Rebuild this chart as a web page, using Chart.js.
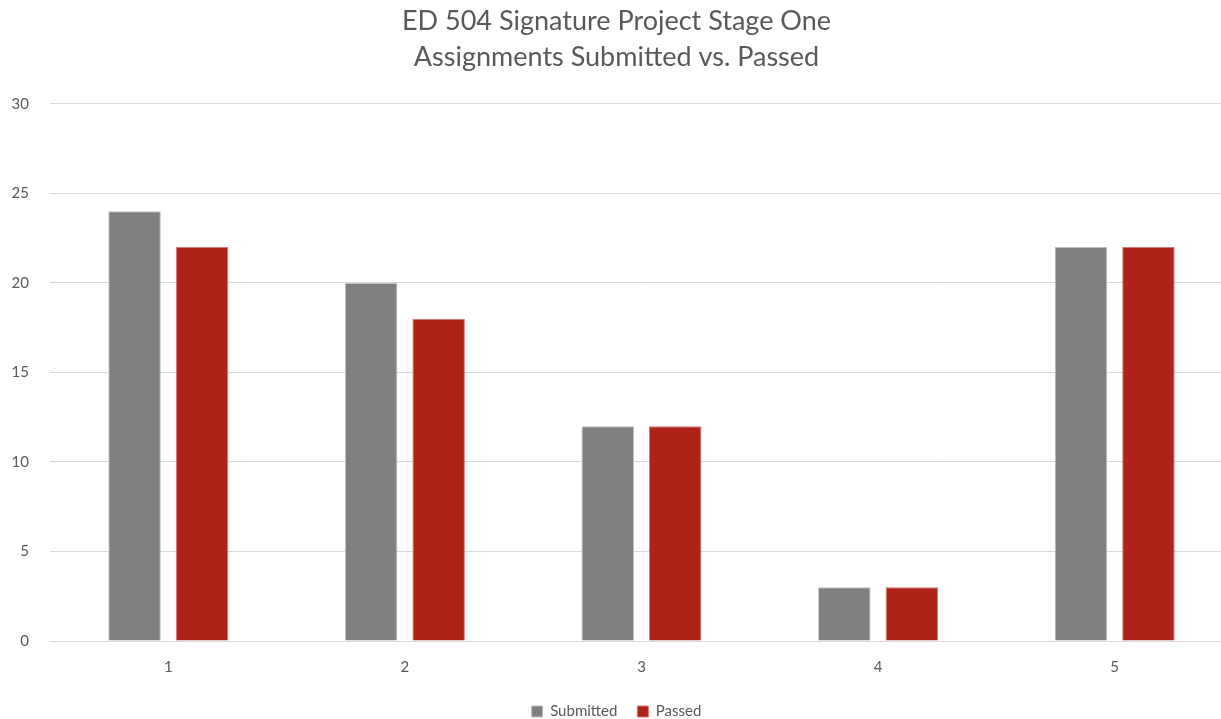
<!DOCTYPE html>
<html>
<head>
<meta charset="utf-8">
<title>ED 504 Signature Project Stage One</title>
<script src="https://cdn.jsdelivr.net/npm/chart.js@4.4.1/dist/chart.umd.min.js"></script>
<style>
  html, body { margin: 0; padding: 0; background: #ffffff; overflow: hidden; }
  #wrap { width: 1254px; height: 719px; position: relative; }
</style>
</head>
<body>
<div id="wrap"><canvas id="chart"></canvas></div>
<script>
const categories = ['1', '2', '3', '4', '5'];
const submitted = [24, 20, 12, 3, 22];
const passed = [22, 18, 12, 3, 22];
const titleLines = ['ED 504 Signature Project Stage One', 'Assignments Submitted vs. Passed'];

const textColor = '#595959';
const fontFamily = 'Lato, "Open Sans", sans-serif';

// Pull the legend box closer to the bottom edge of the canvas.
const legendShift = 10;
const tightLegend = {
  id: 'tightLegend',
  afterInit(chart) {
    const legend = chart.legend;
    if (!legend) return;
    const originalFit = legend.fit;
    legend.fit = function () {
      originalFit.call(this);
      this.height -= legendShift;
    };
  }
};

new Chart(document.getElementById('chart'), {
  type: 'bar',
  data: {
    labels: categories,
    datasets: [
      {
        label: 'Submitted',
        data: submitted,
        backgroundColor: '#7f7f7f',
        borderColor: '#bfbfbf',
        borderWidth: 1,
        barPercentage: 0.778,
        categoryPercentage: 0.5706
      },
      {
        label: 'Passed',
        data: passed,
        backgroundColor: '#ae2318',
        borderColor: '#d27a73',
        borderWidth: 1,
        barPercentage: 0.778,
        categoryPercentage: 0.5706
      }
    ]
  },
  plugins: [tightLegend],
  options: {
    responsive: true,
    maintainAspectRatio: false,
    animation: false,
    layout: { padding: { left: 0, right: 21, top: 3, bottom: 0 } },
    plugins: {
      title: {
        display: true,
        text: titleLines,
        color: textColor,
        font: { family: fontFamily, size: 27, weight: 'normal', lineHeight: 1.33 },
        padding: { top: 0, bottom: 29 }
      },
      legend: {
        position: 'bottom',
        labels: {
          color: textColor,
          font: { family: fontFamily, size: 15 },
          boxWidth: 11,
          boxHeight: 11,
          padding: 20
        }
      },
      tooltip: { enabled: false }
    },
    scales: {
      x: {
        grid: { display: false },
        border: { display: false },
        afterFit: (scale) => { scale.height = 43; },
        ticks: {
          color: textColor,
          font: { family: fontFamily, size: 15 },
          padding: 9
        }
      },
      y: {
        min: 0,
        max: 30,
        afterFit: (scale) => { scale.width = 50; },
        grid: { color: '#d9d9d9', lineWidth: 1, drawTicks: false },
        border: { display: false },
        ticks: {
          stepSize: 5,
          color: textColor,
          font: { family: fontFamily, size: 15 },
          padding: 21
        }
      }
    }
  }
});
</script>
</body>
</html>
